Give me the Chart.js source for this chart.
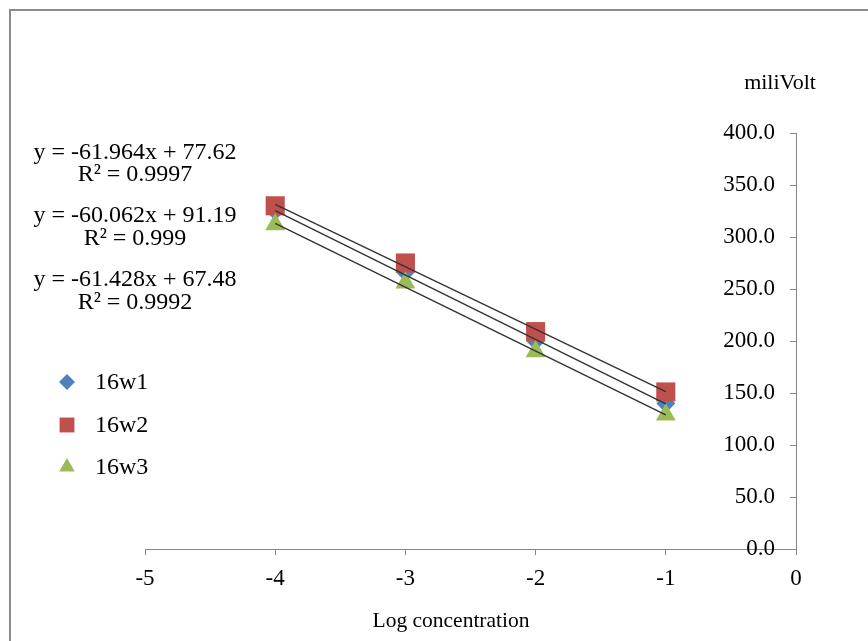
<!DOCTYPE html>
<html><head><meta charset="utf-8">
<script src="https://cdn.jsdelivr.net/npm/chart.js@4.4.1/dist/chart.umd.min.js"></script>
<style>
html,body{margin:0;padding:0;background:#fff;}
#wrap{position:relative;width:868px;height:641px;overflow:hidden;}
#frame{position:absolute;left:9px;top:9px;width:900px;height:700px;border-top:2px solid #8a8a8a;border-left:2px solid #8a8a8a;pointer-events:none;}
</style></head><body>
<div id="wrap"><canvas id="c" width="868" height="641"></canvas><div id="frame"></div></div>
<script>
// ---- data ----
const seriesNames = ['16w1', '16w2', '16w3'];
const logConc = [-4, -3, -2, -1];
const w1 = [325, 266, 200, 140];
const w2 = [330, 275, 209, 151];
const w3 = [312, 256, 190, 129];
const trendSlope = [-61.964, -60.062, -61.428];
const trendIntercept = [77.62, 91.19, 67.48];
const trendR2 = [0.9997, 0.999, 0.9992];
const xTicksMin = -5, xTicksMax = 0, xStep = 1;
const yTicksMin = 0, yTicksMax = 400, yStep = 50;
const xTitle = 'Log concentration';
const yTitle = 'miliVolt';

const colors = ['#4F81BD', '#C0504D', '#9BBB59'];
const styles = ['rectRot', 'rect', 'triangle'];
const radii = [9.5, 13.5, 11.5];
const legendRadii = [8, 10.5, 9];
const FONT = '"Liberation Serif", "Times New Roman", serif';

const values = [w1, w2, w3];
const datasets = [];
values.forEach((v, i) => {
  const x0 = logConc[0], x1 = logConc[logConc.length - 1];
  datasets.push({
    label: 'trend ' + seriesNames[i],
    data: [{x: x0, y: trendSlope[i] * x0 + trendIntercept[i]}, {x: x1, y: trendSlope[i] * x1 + trendIntercept[i]}],
    showLine: true, borderColor: '#333333', borderWidth: 1.4, pointRadius: 0, fill: false, order: 0
  });
});
values.forEach((v, i) => {
  datasets.push({
    label: seriesNames[i],
    data: logConc.map((x, j) => ({x: x, y: v[j]})),
    pointStyle: styles[i], pointRadius: radii[i], pointHoverRadius: radii[i],
    backgroundColor: colors[i], borderColor: colors[i], borderWidth: 0,
    order: i === 0 ? 3 : (i === 1 ? 2 : 1)
  });
});

const annot = {
  id: 'annot',
  afterDraw(chart) {
    const ctx = chart.ctx;
    ctx.save();
    ctx.fillStyle = '#000';
    ctx.textAlign = 'center';
    ctx.textBaseline = 'middle';
    ctx.font = '24px ' + FONT;
    const eqY = [[153, 175], [216, 239], [280, 303]];
    for (let i = 0; i < 3; i++) {
      const eq = 'y = ' + trendSlope[i].toFixed(3) + 'x + ' + trendIntercept[i].toFixed(2);
      ctx.fillText(eq, 135, eqY[i][0]);
      ctx.fillText('R\u00B2 = ' + String(trendR2[i]), 135, eqY[i][1]);
    }
    const legY = [382, 425, 467];
    ctx.textAlign = 'left';
    for (let i = 0; i < 3; i++) {
      ctx.fillStyle = colors[i];
      ctx.strokeStyle = colors[i];
      Chart.helpers.drawPoint(ctx, {pointStyle: styles[i], radius: legendRadii[i], rotation: 0, borderWidth: 0}, 67, legY[i]);
      ctx.fillStyle = '#000';
      ctx.fillText(seriesNames[i], 95, legY[i] + 1);
    }
    ctx.textAlign = 'center';
    ctx.font = '21.5px ' + FONT;
    ctx.fillText(xTitle, 451, 621);
    ctx.font = '22px ' + FONT;
    ctx.fillText(yTitle, 780, 83);
    ctx.restore();
  }
};

new Chart(document.getElementById('c'), {
  type: 'scatter',
  data: {datasets: datasets},
  options: {
    responsive: false,
    animation: false,
    layout: {padding: {left: 145, right: 72, top: 133, bottom: 0}},
    plugins: {legend: {display: false}, tooltip: {enabled: false}},
    scales: {
      x: {
        type: 'linear', position: 'bottom', min: xTicksMin, max: xTicksMax,
        ticks: {stepSize: xStep, color: '#000', font: {family: FONT, size: 23}, padding: 10},
        grid: {drawOnChartArea: false, drawTicks: true, tickLength: 6, color: '#868686'},
        border: {color: '#868686', width: 1},
        afterFit: s => { s.height = 92; }
      },
      y: {
        type: 'linear', position: 'right', min: yTicksMin, max: yTicksMax,
        ticks: {stepSize: yStep, color: '#000', font: {family: FONT, size: 23}, padding: -21, mirror: true,
                callback: v => Number(v).toFixed(1)},
        grid: {drawOnChartArea: false, drawTicks: true, tickLength: -6, color: '#868686'},
        border: {color: '#868686', width: 1},
        afterFit: s => { s.width = 0; }
      }
    }
  },
  plugins: [annot]
});
</script>
</body></html>
